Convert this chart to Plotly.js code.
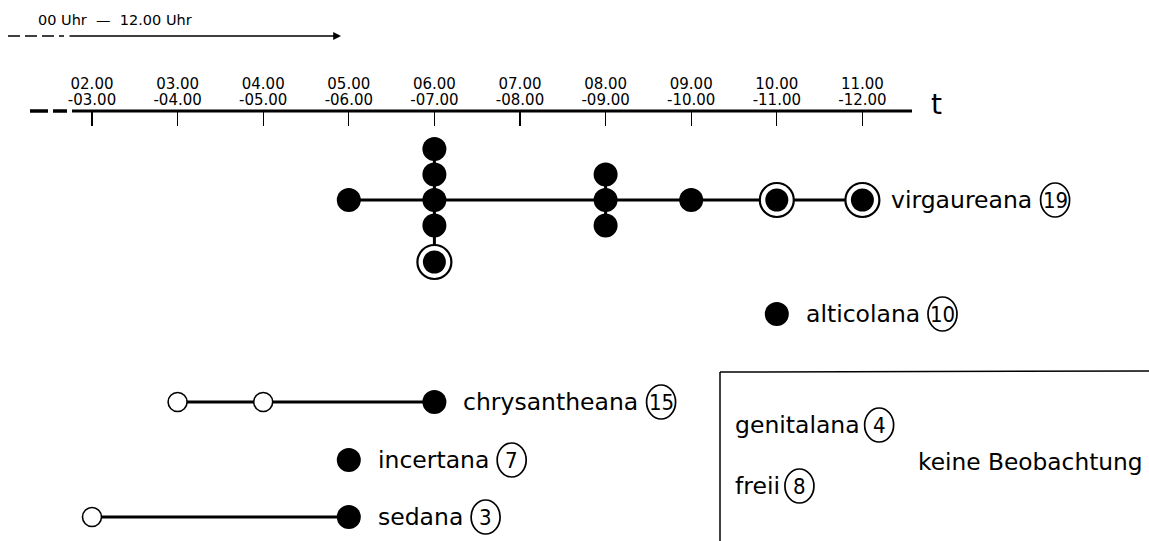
<!DOCTYPE html>
<html>
<head>
<meta charset="utf-8">
<script src="https://cdn.plot.ly/plotly-3.0.1.min.js"></script>
<style>html,body{margin:0;padding:0;background:#fff;}#chart{width:1149px;height:541px;}</style>
</head>
<body>
<div id="chart"></div>
<script>
// ---------------- data ----------------
const hours = [2, 3, 4, 5, 6, 7, 8, 9, 10, 11];
const tickFrom = ['02.00', '03.00', '04.00', '05.00', '06.00', '07.00', '08.00', '09.00', '10.00', '11.00'];
const tickTo = ['-03.00', '-04.00', '-05.00', '-06.00', '-07.00', '-08.00', '-09.00', '-10.00', '-11.00', '-12.00'];
const species = ['virgaureana', 'alticolana', 'chrysantheana', 'incertana', 'sedana'];
const speciesN = [19, 10, 15, 7, 3];
// observation hour (start of the hour interval) and kind: f = filled, r = ringed, o = open
const virgaureanaHours = [5, 6, 6, 6, 6, 6, 8, 8, 8, 9, 10, 11];
const virgaureanaKinds = ['f', 'f', 'f', 'f', 'f', 'r', 'f', 'f', 'f', 'f', 'r', 'r'];
const alticolanaHours = [10];
const alticolanaKinds = ['f'];
const chrysantheanaHours = [3, 4, 6];
const chrysantheanaKinds = ['o', 'o', 'f'];
const incertanaHours = [5];
const incertanaKinds = ['f'];
const sedanaHours = [2, 5];
const sedanaKinds = ['o', 'f'];
const noObsSpecies = ['genitalana', 'freii'];
const noObsN = [4, 8];
const noObsLabel = 'keine Beobachtung';
const scaleLabel = '00 Uhr\u00a0\u00a0—\u00a0\u00a012.00 Uhr';

// ---------------- layout helpers ----------------
const W = 1149, H = 541;
const PX0 = 92, PXH = 85.6;                 // pixel of hour 2, pixels per hour
const pxToH = px => 2 + (px - PX0) / PXH;
const rowY = [200, 314, 402, 460, 517];      // row positions (y axis units = pixels)
const stackStep = 25.5, ringExtra = 11;
const FONT = 'DejaVu Sans';
const NUMFONT = 'DejaVu Sans Condensed, DejaVu Sans';
const LBL = 23.5, NUM = 22;
const CRX = 14.5, CRY = 17;

const obsHours = [virgaureanaHours, alticolanaHours, chrysantheanaHours, incertanaHours, sedanaHours];
const obsKinds = [virgaureanaKinds, alticolanaKinds, chrysantheanaKinds, incertanaKinds, sedanaKinds];

const ctx = document.createElement('canvas').getContext('2d');
function textW(t, size) { ctx.font = size + 'px "' + FONT + '"'; return ctx.measureText(t).width; }

const traces = [];
const filled = {x: [], y: []}, ringed = {x: [], y: []}, open = {x: [], y: []};
const shapes = [];
const annotations = [];

function circledNumber(xa, ya, off, n) {
  shapes.push({type: 'circle', xref: 'x', yref: 'y', xsizemode: 'pixel', ysizemode: 'pixel',
    xanchor: xa, yanchor: ya, x0: off - CRX, x1: off + CRX, y0: -CRY, y1: CRY,
    line: {color: '#000', width: 1.7}});
  annotations.push({x: xa, y: ya, xref: 'x', yref: 'y', xanchor: 'center', yanchor: 'middle',
    xshift: off, yshift: 0, text: String(n), showarrow: false,
    font: {family: NUMFONT, size: NUM, color: '#000'}});
}

species.forEach((sp, i) => {
  const hs = obsHours[i], ks = obsKinds[i], y0 = rowY[i];
  const hmin = Math.min(...hs), hmax = Math.max(...hs);
  if (hmax > hmin) {
    traces.push({x: [hmin, hmax], y: [y0, y0], mode: 'lines', line: {color: '#000', width: 3},
      hoverinfo: 'skip', showlegend: false});
  }
  const uniq = [...new Set(hs)];
  uniq.forEach(h => {
    const idx = hs.map((v, j) => v === h ? j : -1).filter(j => j >= 0);
    const c = Math.floor(idx.length / 2);
    const ys = idx.map((j, k) => {
      const off = k - c;
      let y = y0 + off * stackStep;
      if (ks[j] === 'r' && off !== 0) y += Math.sign(off) * ringExtra;
      return y;
    });
    if (idx.length > 1) {
      traces.push({x: [h, h], y: [Math.min(...ys), Math.max(...ys)], mode: 'lines',
        line: {color: '#000', width: 3}, hoverinfo: 'skip', showlegend: false});
    }
    idx.forEach((j, k) => {
      const tgt = ks[j] === 'f' ? filled : ks[j] === 'r' ? ringed : open;
      tgt.x.push(h); tgt.y.push(ys[k]);
    });
  });
  const shift = 27;
  annotations.push({x: hmax, y: y0, xref: 'x', yref: 'y', xanchor: 'left', yanchor: 'middle',
    xshift: shift, text: sp, showarrow: false, font: {family: FONT, size: LBL, color: '#000'}});
  circledNumber(hmax, y0, shift + textW(sp, LBL) + 10 + CRX, speciesN[i]);
});

traces.push({x: ringed.x, y: ringed.y, mode: 'markers', hoverinfo: 'skip', showlegend: false,
  marker: {size: 34, color: '#fff', line: {color: '#000', width: 2.2}}});
traces.push({x: ringed.x, y: ringed.y, mode: 'markers', hoverinfo: 'skip', showlegend: false,
  marker: {size: 23, color: '#000', line: {width: 0}}});
traces.push({x: filled.x, y: filled.y, mode: 'markers', hoverinfo: 'skip', showlegend: false,
  marker: {size: 24, color: '#000', line: {width: 0}}});
traces.push({x: open.x, y: open.y, mode: 'markers', hoverinfo: 'skip', showlegend: false,
  marker: {size: 19, color: '#fff', line: {color: '#000', width: 1.6}}});

// no-observation box
const boxLeft = 720, boxTop = 372;
shapes.push({type: 'line', xref: 'x', yref: 'y', x0: pxToH(boxLeft), x1: pxToH(1149), y0: boxTop, y1: boxTop - 1,
  line: {color: '#000', width: 1.5}});
shapes.push({type: 'line', xref: 'x', yref: 'y', x0: pxToH(boxLeft), x1: pxToH(boxLeft), y0: boxTop, y1: 541,
  line: {color: '#000', width: 1.5}});
const noObsY = [425, 486];
noObsSpecies.forEach((sp, i) => {
  const hx = pxToH(733);
  annotations.push({x: hx, y: noObsY[i], xref: 'x', yref: 'y', xanchor: 'left', yanchor: 'middle',
    text: sp, showarrow: false, font: {family: FONT, size: LBL, color: '#000'}});
  circledNumber(hx, noObsY[i], textW(sp, LBL) + 7 + CRX, noObsN[i]);
});
annotations.push({x: pxToH(1030), y: 461, xref: 'x', yref: 'y', xanchor: 'center', yanchor: 'middle',
  text: noObsLabel, showarrow: false, font: {family: FONT, size: 23.3, color: '#000'}});

// time axis line with leading dashes
const axisY = 111;
shapes.push({type: 'line', xref: 'x', yref: 'y', x0: pxToH(72), x1: pxToH(912), y0: axisY, y1: axisY,
  line: {color: '#000', width: 3}});
shapes.push({type: 'line', xref: 'x', yref: 'y', x0: pxToH(30), x1: pxToH(48), y0: axisY, y1: axisY,
  line: {color: '#000', width: 3.5}});
shapes.push({type: 'line', xref: 'x', yref: 'y', x0: pxToH(53), x1: pxToH(67), y0: axisY, y1: axisY,
  line: {color: '#000', width: 3.5}});
annotations.push({x: pxToH(936), y: 104, xref: 'x', yref: 'y', xanchor: 'center', yanchor: 'middle',
  text: 't', showarrow: false, font: {family: FONT, size: 28, color: '#000'}});

// top scale note with arrow
annotations.push({x: pxToH(36), y: 20, xref: 'x', yref: 'y', xanchor: 'left', yanchor: 'middle',
  text: scaleLabel, showarrow: false, font: {family: FONT, size: 14.5, color: '#000'}});
shapes.push({type: 'line', xref: 'x', yref: 'y', x0: pxToH(8), x1: pxToH(64), y0: 36, y1: 36,
  line: {color: '#000', width: 1.3, dash: '12px,5px'}});
annotations.push({x: pxToH(341), y: 36, ax: pxToH(68), ay: 36, axref: 'x', ayref: 'y', xref: 'x', yref: 'y',
  text: '', showarrow: true, arrowhead: 2, arrowsize: 1.2, arrowwidth: 1.3, arrowcolor: '#000'});

const tickFont = {family: FONT, size: 15, color: '#000'};
const layout = {
  width: W, height: H,
  margin: {l: 0, r: 0, t: 0, b: 0},
  paper_bgcolor: '#fff', plot_bgcolor: '#fff',
  showlegend: false,
  xaxis: {
    range: [pxToH(0), pxToH(W)], side: 'top', anchor: 'free', position: 1 - axisY / H,
    showgrid: false, zeroline: false, showline: false,
    tickmode: 'array', tickvals: hours, ticktext: tickTo,
    ticks: 'inside', ticklen: 14, tickwidth: 1.4, tickcolor: '#000', ticklabelstandoff: 3,
    tickfont: tickFont, fixedrange: true
  },
  xaxis2: {
    overlaying: 'x', matches: 'x', side: 'top', anchor: 'free', position: 1 - 92 / H,
    showgrid: false, zeroline: false, showline: false,
    tickmode: 'array', tickvals: hours, ticktext: tickFrom, ticks: '',
    tickfont: tickFont, fixedrange: true
  },
  yaxis: {range: [H, 0], visible: false, showgrid: false, zeroline: false, fixedrange: true},
  shapes: shapes,
  annotations: annotations
};

// invisible trace to activate xaxis2
traces.push({x: [hours[0]], y: [-100], xaxis: 'x2', mode: 'markers', marker: {opacity: 0},
  hoverinfo: 'skip', showlegend: false});

Plotly.newPlot('chart', traces, layout, {staticPlot: true, displayModeBar: false});
</script>
</body>
</html>
